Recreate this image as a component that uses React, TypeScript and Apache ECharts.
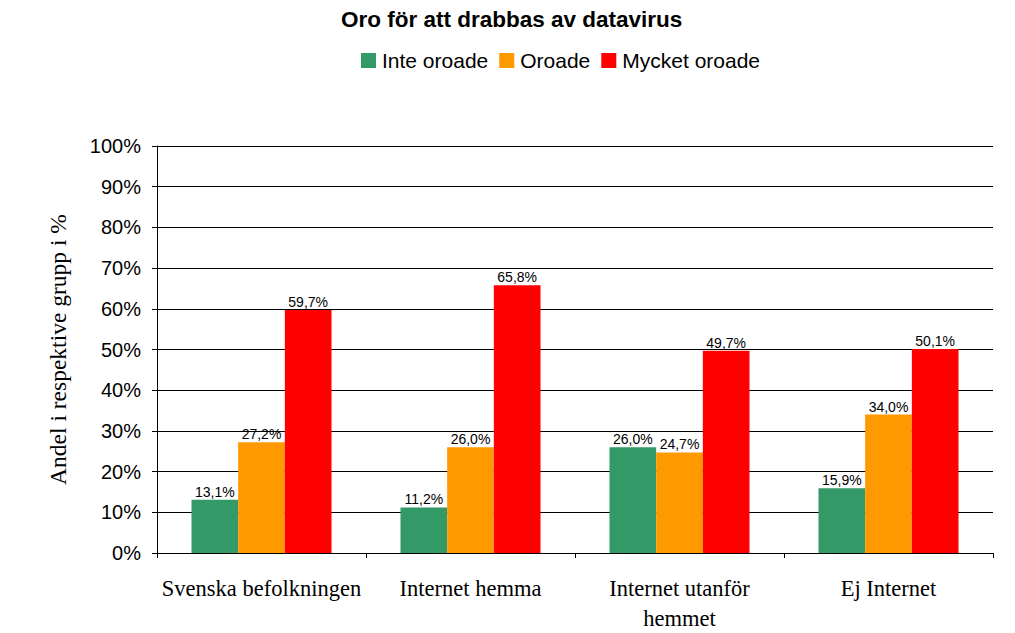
import React, { useEffect, useRef } from "react";
import * as echarts from "echarts";

const categories = ["Svenska befolkningen", "Internet hemma", "Internet utanför\nhemmet", "Ej Internet"];
const seriesNames = ["Inte oroade", "Oroade", "Mycket oroade"];
const inteOroade = [13.1, 11.2, 26.0, 15.9];
const oroade = [27.2, 26.0, 24.7, 34.0];
const mycketOroade = [59.7, 65.8, 49.7, 50.1];
const colors = ["#339966", "#FF9900", "#FF0000"];
const yTicks = [0, 10, 20, 30, 40, 50, 60, 70, 80, 90, 100];

const SANS = "'Liberation Sans', Arial, sans-serif";
const SERIF = "'Liberation Serif', 'Times New Roman', serif";

export default function App() {
  const ref = useRef<HTMLDivElement>(null);
  useEffect(() => {
    if (!ref.current) return;
    const chart = echarts.init(ref.current, null, { renderer: "svg" });
    const values = [inteOroade, oroade, mycketOroade];
    chart.setOption({
      animation: false,
      backgroundColor: "#ffffff",
      title: {
        text: "Oro för att drabbas av datavirus",
        left: 341,
        top: 8,
        padding: 0,
        textStyle: { fontFamily: SANS, fontWeight: "bold", fontSize: 22.5, color: "#000" },
      },
      legend: {
        data: seriesNames,
        left: 361,
        top: 50,
        padding: 0,
        itemWidth: 15,
        itemHeight: 15,
        itemGap: 11,
        icon: "rect",
        textStyle: { fontFamily: SANS, fontSize: 21, color: "#000", padding: [0, 0, 0, 1] },
      },
      grid: { left: 157, right: 22, top: 146, bottom: 73, containLabel: false },
      xAxis: {
        type: "category",
        data: categories,
        axisLine: { lineStyle: { color: "#000", width: 1 } },
        axisTick: { show: true, length: 5, lineStyle: { color: "#000" } },
        axisLabel: {
          fontFamily: SERIF,
          fontSize: 22.5,
          color: "#000",
          margin: 20,
          lineHeight: 30,
          interval: 0,
        },
      },
      yAxis: {
        type: "value",
        min: 0,
        max: 100,
        interval: 10,
        name: "Andel i respektive grupp i %",
        nameLocation: "middle",
        nameGap: 87,
        nameTextStyle: { fontFamily: SERIF, fontSize: 23.5, color: "#000" },
        axisLine: { show: true, lineStyle: { color: "#000", width: 1 } },
        axisTick: { show: true, length: 5, lineStyle: { color: "#000" } },
        axisLabel: {
          fontFamily: SANS,
          fontSize: 20,
          color: "#000",
          margin: 16,
          formatter: (v: number) => (yTicks.includes(v) ? v + "%" : ""),
        },
        splitLine: { show: true, lineStyle: { color: "#000", width: 1 } },
      },
      series: seriesNames.map((name, i) => ({
        name,
        type: "bar",
        data: values[i],
        barGap: "0%",
        barCategoryGap: "33%",
        itemStyle: { color: colors[i] },
        label: {
          show: true,
          position: "top",
          distance: 1,
          fontFamily: SANS,
          fontSize: 14,
          color: "#000",
          formatter: (p: any) => p.value.toFixed(1).replace(".", ",") + "%",
        },
      })),
    });
    return () => chart.dispose();
  }, []);
  return (
    <div
      ref={ref}
      style={{ position: "fixed", left: 0, top: 0, width: 1015, height: 633, background: "#fff" }}
    />
  );
}
